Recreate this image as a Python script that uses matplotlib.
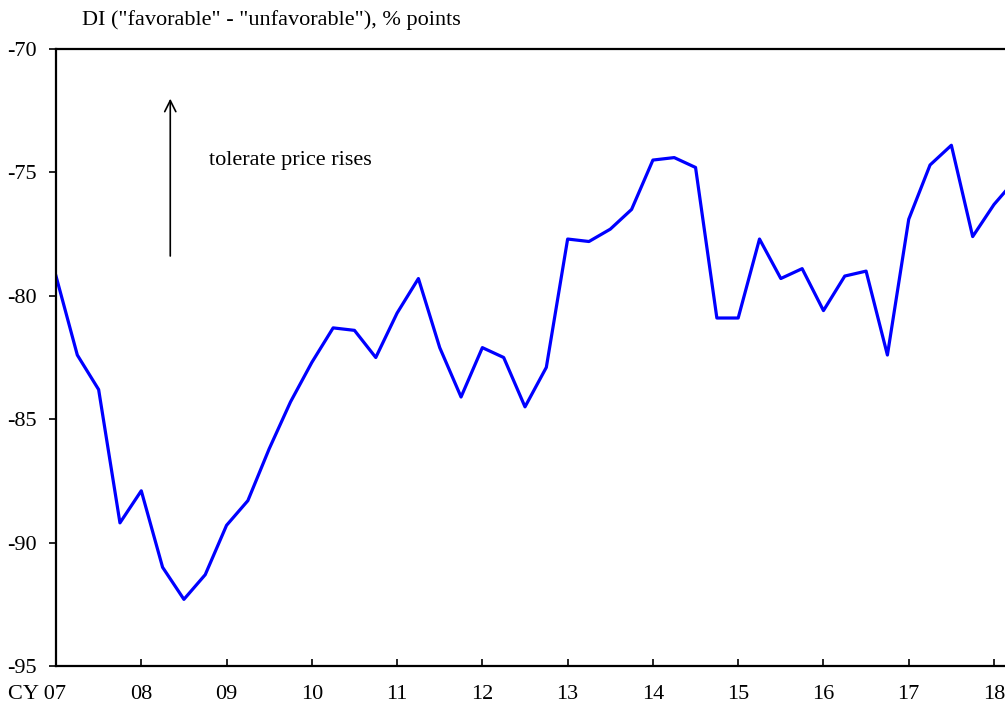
import matplotlib
matplotlib.use('Agg')
import matplotlib.pyplot as plt
import matplotlib.transforms as mtransforms
import numpy as np

# quarterly DI values, 2007Q1 .. 2018Q2
di_values = [-79.2, -82.4, -83.8, -89.2, -87.9, -91.0, -92.3, -91.3,
             -89.3, -88.3, -86.2, -84.3, -82.7, -81.3, -81.4, -82.5,
             -80.7, -79.3, -82.1, -84.1, -82.1, -82.5, -84.5, -82.9,
             -77.7, -77.8, -77.3, -76.5, -74.5, -74.4, -74.8, -80.9,
             -80.9, -77.7, -79.3, -78.9, -80.6, -79.2, -79.0, -82.4,
             -76.9, -74.7, -73.9, -77.6, -76.3, -75.3]
year_labels = ['CY 07', '08', '09', '10', '11', '12', '13', '14', '15', '16', '17', '18']
y_ticks = [-70, -75, -80, -85, -90, -95]

plt.rcParams['font.family'] = ['Liberation Serif', 'DejaVu Serif']

fig = plt.figure(figsize=(10.05, 7.04), dpi=100)
ax = fig.add_axes([56/1005, 1 - 666/704, 1 - 56/1005, (666 - 49)/704])

x = np.arange(len(di_values)) / 4.0
ax.plot(x, di_values, color='#0000ff', linewidth=2.3)

ax.set_xlim(0, 11 + 11/85.3)
ax.set_ylim(-95, -70)
ax.set_yticks(y_ticks)
ax.set_yticklabels([str(v) for v in y_ticks])
ax.set_xticks(range(len(year_labels)))
ax.set_xticklabels(year_labels)

for s in ax.spines.values():
    s.set_linewidth(1.6)
ax.spines['right'].set_visible(False)

ax.tick_params(axis='y', direction='out', length=5, width=1.2, pad=9, labelsize=16)
ax.tick_params(axis='x', direction='in', length=5, width=1.2, pad=14, labelsize=16)

# shift "CY 07" so that the "07" sits under the first tick
first = ax.get_xticklabels()[0]
first.set_transform(first.get_transform() +
                    mtransforms.ScaledTranslation(-0.19, 0, fig.dpi_scale_trans))

fig.text(82/1005, 1 - 20/704, 'DI ("favorable" - "unfavorable"), % points',
         fontsize=16, ha='left', va='center')

# arrow and annotation
ax.annotate('', xy=(1.34, -71.9), xytext=(1.34, -78.5),
            arrowprops=dict(arrowstyle='->', color='black', lw=1.2,
                            mutation_scale=20))
ax.text(1.8, -74.5, 'tolerate price rises', fontsize=16, ha='left', va='center')

fig.savefig('out.png', dpi=100)
